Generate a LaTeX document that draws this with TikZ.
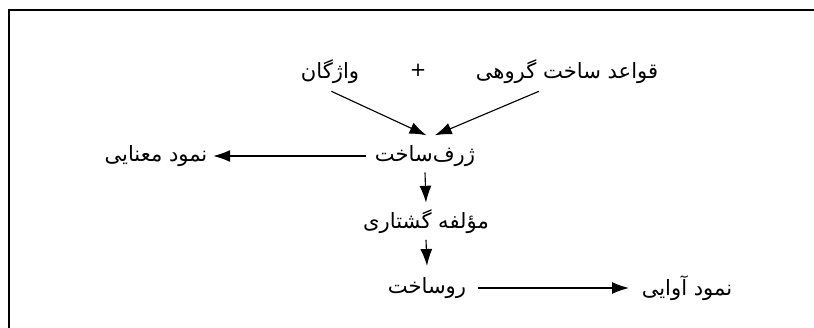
\documentclass[tikz,border=0pt]{standalone}
\usepackage{fontspec}
\usepackage{tikz}
\usetikzlibrary{arrows.meta}
\newfontfamily\arabicfont[Script=Arabic]{DejaVu Sans}
\TeXXeTstate=1
\newcommand{\fa}[1]{\beginR #1\endR}

\begin{document}
\begin{tikzpicture}[>={Latex[length=12pt,width=8.5pt]},
    fa/.style={font=\arabicfont\fontsize{15}{17}\selectfont, inner sep=2pt},
    arr/.style={->, line width=0.8pt}]
    \useasboundingbox (0,0) rectangle (20.35,8.2);
    % frame
    \draw[line width=1.8pt] (20.35,7.95) -- (0.225,7.95) -- (0.225,0);

    % inputs
    \node[fa] (vazhegan) at (8.25,6.4) {\fa{واژگان}};
    \node[font=\arabicfont\fontsize{14}{16}\selectfont] (plus) at (10.45,6.45) {+};
    \node[fa] (qavaed) at (14.175,6.4) {\fa{قواعد ساخت گروهی}};

    % structures
    \node[fa] (zharf) at (10.625,4.3) {\fa{ژرف‌ساخت}};
    \node[fa] (maanayi) at (3.9,4.3) {\fa{نمود معنایی}};
    \node[fa] (moallefe) at (10.65,2.65) {\fa{مؤلفه گشتاری}};
    \node[fa] (rusakht) at (10.675,1.0) {\fa{روساخت}};
    \node[fa] (avayi) at (17.175,1.0) {\fa{نمود آوایی}};

    \draw[arr] ([xshift=1pt,yshift=-3pt]vazhegan.south) -- ([xshift=1pt,yshift=5pt]zharf.north);
    \draw[arr] ([xshift=-20pt,yshift=-3pt]qavaed.south) -- ([xshift=7pt,yshift=5pt]zharf.north);
    \draw[arr] ([xshift=-4pt]zharf.west) -- ([xshift=2pt]maanayi.east);
    \draw[arr] ([yshift=-2pt]zharf.south) -- ([yshift=3pt]moallefe.north);
    \draw[arr] ([yshift=-2pt]moallefe.south) -- ([yshift=6pt]rusakht.north);
    \draw[arr] ([xshift=6pt]rusakht.east) -- ([xshift=-7pt]avayi.west);
\end{tikzpicture}
\end{document}
